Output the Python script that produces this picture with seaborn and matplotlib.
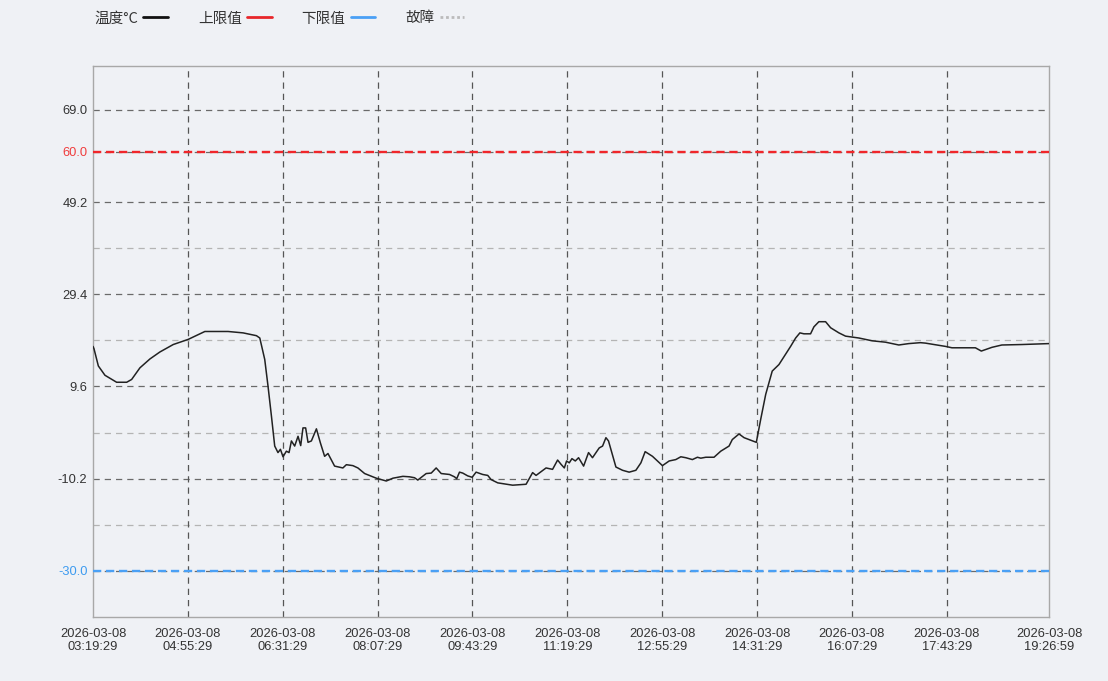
import numpy as np
import pandas as pd
import matplotlib
matplotlib.use("Agg")
import matplotlib.pyplot as plt
from matplotlib.lines import Line2D
import seaborn as sns

# ---------------- data ----------------
start_time = "2026-03-08 03:19:29"
end_time = "2026-03-08 19:26:59"

minutes = [0.0, 1.0, 5.4, 12.1, 23.9, 34.1, 39.1, 47.5, 57.6, 67.7, 81.2, 96.3, 113.2, 136.7,
           151.9, 165.4, 168.8, 173.8, 177.1, 180.6, 183.9, 187.2, 189.7, 192.3, 195.7, 198.4,
           200.8, 204.1, 207.5, 210.2, 212.5, 215.2, 217.6, 221.0, 226.1, 230.1, 234.4, 237.8,
           244.5, 252.9, 256.4, 263.0, 268.1, 274.9, 286.7, 296.8, 303.5, 313.6, 320.3, 325.4,
           328.7, 337.2, 342.3, 347.3, 352.4, 360.8, 365.8, 368.1, 370.9, 374.2, 379.2, 383.7,
           387.7, 394.4, 399.5, 402.9, 409.6, 424.7, 438.3, 444.9, 448.4, 458.5, 465.1, 470.2,
           473.6, 477.0, 479.3, 482.0, 484.7, 488.1, 491.4, 496.5, 501.5, 505.5, 512.3, 515.7,
           519.1, 521.7, 529.2, 535.9, 542.6, 549.4, 554.5, 558.8, 566.2, 576.3, 583.1, 589.8,
           594.9, 599.9, 606.6, 611.7, 615.1, 620.2, 628.5, 635.3, 643.7, 647.0, 653.8, 658.9,
           671.3, 675.7, 680.8, 687.4, 694.2, 706.0, 711.1, 715.4, 719.5, 726.2, 729.6, 734.6,
           741.4, 746.5, 754.9, 761.6, 775.1, 788.5, 802.1, 815.5, 825.6, 837.4, 842.5, 862.7,
           869.3, 893.0, 899.0, 909.8, 919.8, 940.0, 965.3, 967.5]

temperature = [18.2, 17.7, 14.0, 12.0, 10.5, 10.5, 11.1, 13.6, 15.5, 17.0, 18.6, 19.7, 21.4, 21.4,
               21.1, 20.5, 20.0, 15.4, 9.7, 3.2, -3.2, -4.6, -3.9, -5.5, -4.3, -4.6,
               -2.1, -3.2, -1.1, -3.1, 0.7, 0.7, -2.4, -2.1, 0.5, -2.5, -5.4, -4.8,
               -7.5, -7.9, -7.2, -7.4, -7.9, -9.1, -10.1, -10.7, -10.1, -9.7, -9.8, -10.0,
               -10.5, -9.1, -9.0, -7.9, -9.1, -9.3, -9.8, -10.2, -8.8, -9.0, -9.6, -9.9,
               -8.8, -9.3, -9.5, -10.4, -11.1, -11.6, -11.4, -8.9, -9.5, -7.9, -8.2, -6.2,
               -7.1, -7.9, -6.4, -6.8, -5.9, -6.4, -5.7, -7.5, -4.6, -5.7, -3.6, -3.2,
               -1.4, -2.1, -7.7, -8.4, -8.8, -8.4, -6.8, -4.4, -5.4, -7.4, -6.4, -6.1,
               -5.5, -5.7, -6.1, -5.6, -5.8, -5.6, -5.6, -4.3, -3.2, -1.8, -0.6, -1.4,
               -2.4, 2.5, 7.9, 12.9, 14.3, 18.2, 20.0, 21.1, 20.9, 20.9, 22.4, 23.5,
               23.5, 22.2, 21.1, 20.4, 20.0, 19.4, 19.1, 18.5, 18.8, 19.0, 18.9, 18.2,
               17.9, 17.9, 17.2, 18.0, 18.5, 18.6, 18.8, 18.8]

upper_limit = 60.0
lower_limit = -30.0

y_ticks = [69.0, 60.0, 49.2, 29.4, 9.6, -10.2, -30.0]
y_grid_major = [69.0, 60.0, 49.2, 29.4, 9.6, -10.2, -30.0]
y_grid_minor = [39.3, 19.5, -0.3, -20.1]
y_range = [-39.9, 78.4]

x_ticks = ["2026-03-08 03:19:29", "2026-03-08 04:55:29", "2026-03-08 06:31:29",
           "2026-03-08 08:07:29", "2026-03-08 09:43:29", "2026-03-08 11:19:29",
           "2026-03-08 12:55:29", "2026-03-08 14:31:29", "2026-03-08 16:07:29",
           "2026-03-08 17:43:29", "2026-03-08 19:26:59"]

legend_labels = ["温度°C", "上限值", "下限值", "故障"]

# ---------------- build ----------------
df = pd.DataFrame({
    "time": pd.Timestamp(start_time) + pd.to_timedelta(minutes, unit="m"),
    "temp": temperature,
})

bg = "#eff1f5"
sns.set_theme(style="white")
plt.rcParams["font.family"] = ["Liberation Sans", "Noto Sans CJK SC", "DejaVu Sans"]

fig = plt.figure(figsize=(11.08, 6.81), dpi=100, facecolor=bg)
ax = fig.add_axes([93 / 1108, 1 - 617 / 681, (1049 - 93) / 1108, (617 - 66) / 681])
ax.set_facecolor(bg)

t0 = pd.Timestamp(start_time)
t1 = pd.Timestamp(end_time)
xt = [pd.Timestamp(s) for s in x_ticks]

# grid lines
for v in y_grid_minor:
    ax.axhline(v, color="#b4b4b4", lw=0.9, ls=(0, (5, 4)), zorder=1)
for v in y_grid_major:
    ax.axhline(v, color="#6a6a6a", lw=0.9, ls=(0, (5, 4)), zorder=1)
for t in xt[1:-1]:
    ax.axvline(t, color="#555555", lw=0.9, ls=(0, (5, 4)), zorder=1)

# limit lines
ax.axhline(upper_limit, color="#f0262a", lw=1.7, ls=(0, (3.5, 2)), zorder=3)
ax.axhline(lower_limit, color="#4aa0f5", lw=1.7, ls=(0, (3.5, 2)), zorder=3)

sns.lineplot(data=df, x="time", y="temp", ax=ax, color="#222222", lw=1.1, zorder=4,
             legend=False)

ax.set_xlim(t0, t1)
ax.set_ylim(*y_range)
ax.set_xticks(xt)
ax.set_xticklabels([t.strftime("%Y-%m-%d\n%H:%M:%S") for t in xt], fontsize=9.3, color="#333333",
                   linespacing=1.1)
ax.set_yticks(y_ticks)
ax.set_yticklabels([f"{v:.1f}" for v in y_ticks], fontsize=9.3, color="#333333")
for lab, v in zip(ax.get_yticklabels(), y_ticks):
    if v == upper_limit:
        lab.set_color("#f03c3c")
    elif v == lower_limit:
        lab.set_color("#3d9bf0")
ax.tick_params(axis="y", length=3, width=0.8, color="#888888", pad=1)
ax.tick_params(axis="x", length=6, width=0.8, color="#999999", direction="in", pad=8)
ax.set_xlabel("")
ax.set_ylabel("")
for s in ax.spines.values():
    s.set_color("#a8a8a8")
    s.set_linewidth(1.0)

handles = [
    Line2D([], [], color="#111111", lw=2),
    Line2D([], [], color="#e8262a", lw=2),
    Line2D([], [], color="#4aa0f5", lw=2),
    Line2D([], [], color="#bbbbbb", lw=2, ls=(0, (1, 1))),
]
leg = fig.legend(handles, legend_labels, loc="upper left", bbox_to_anchor=(90 / 1108, 1 - 7 / 681),
                 ncol=4, frameon=False, markerfirst=False, handlelength=1.7, handletextpad=0.35,
                 columnspacing=2.05, borderaxespad=0, borderpad=0.3,
                 prop={"family": ["Noto Sans CJK SC", "DejaVu Sans"], "size": 10.5})
for txt in leg.get_texts():
    txt.set_color("#333333")

fig.savefig("out.png", dpi=100, facecolor=bg)
